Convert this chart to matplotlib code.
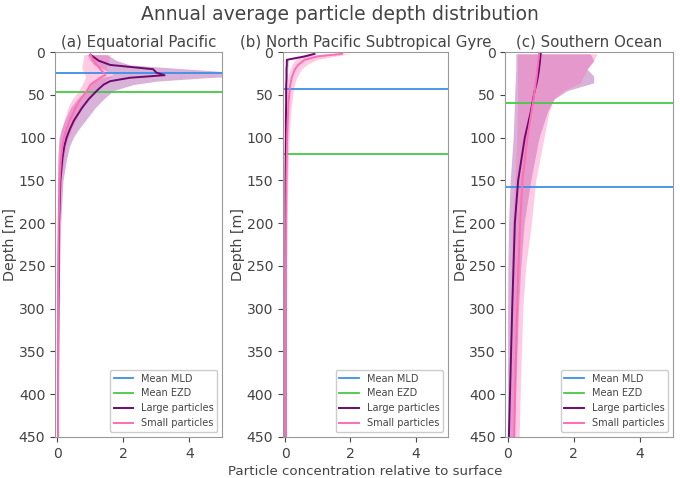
import matplotlib
matplotlib.use('Agg')
import matplotlib.pyplot as plt
import numpy as np

# ---------------- data ----------------
# (a) Equatorial Pacific
depth_a = [3, 10, 15, 20, 24, 27, 30, 34, 38, 45, 55, 65, 80, 90, 100, 110, 125, 150, 200, 250, 300, 375, 450]
large_a = [1.0, 1.25, 1.6, 2.9, 3.0, 3.25, 2.2, 1.6, 1.4, 1.2, 0.95, 0.75, 0.5, 0.38, 0.28, 0.21, 0.15, 0.09, 0.05, 0.04, 0.03, 0.02, 0.02]
large_a_lo = [0.9, 1.0, 1.1, 1.4, 1.6, 1.7, 1.3, 1.1, 1.0, 0.9, 0.6, 0.4, 0.22, 0.12, 0.05, 0.03, 0.01, 0.0, 0.0, 0.0, 0.0, 0.0, 0.0]
large_a_hi = [1.5, 1.8, 2.2, 4.0, 5.5, 6.0, 4.5, 3.0, 2.3, 1.7, 1.4, 1.15, 0.85, 0.65, 0.48, 0.37, 0.28, 0.17, 0.1, 0.07, 0.05, 0.04, 0.03]
small_a = [1.0, 1.1, 1.2, 1.3, 1.4, 1.45, 1.3, 1.15, 1.0, 0.9, 0.7, 0.55, 0.38, 0.28, 0.2, 0.15, 0.11, 0.07, 0.04, 0.03, 0.02, 0.02, 0.02]
small_a_lo = [0.8, 0.78, 0.75, 0.75, 0.8, 0.85, 0.85, 0.8, 0.75, 0.65, 0.45, 0.32, 0.2, 0.13, 0.08, 0.05, 0.03, 0.01, 0.0, 0.0, 0.0, 0.0, 0.0]
small_a_hi = [1.6, 1.55, 1.5, 1.5, 1.6, 1.7, 1.6, 1.45, 1.3, 1.15, 0.95, 0.75, 0.55, 0.43, 0.33, 0.26, 0.2, 0.12, 0.07, 0.05, 0.04, 0.03, 0.03]
mld_a = 25
ezd_a = 47

# (b) North Pacific Subtropical Gyre
depth_b = [2, 5, 9, 15, 20, 30, 40, 60, 80, 100, 150, 200, 300, 450]
large_b = [0.9, 0.6, 0.05, 0.05, 0.04, 0.04, 0.03, 0.03, 0.02, 0.02, 0.01, 0.01, 0.01, 0.01]
large_b_lo = [0.8, 0.5, 0.02, 0.02, 0.02, 0.01, 0.01, 0.0, 0.0, 0.0, 0.0, 0.0, 0.0, 0.0]
large_b_hi = [1.0, 0.7, 0.1, 0.09, 0.08, 0.07, 0.06, 0.05, 0.04, 0.03, 0.02, 0.02, 0.02, 0.02]
small_b = [1.75, 1.0, 0.6, 0.4, 0.3, 0.2, 0.15, 0.1, 0.08, 0.06, 0.04, 0.03, 0.02, 0.02]
small_b_lo = [1.2, 0.55, 0.3, 0.2, 0.15, 0.08, 0.05, 0.03, 0.02, 0.01, 0.0, 0.0, 0.0, 0.0]
small_b_hi = [2.0, 1.5, 0.95, 0.65, 0.5, 0.35, 0.27, 0.2, 0.15, 0.12, 0.08, 0.06, 0.04, 0.04]
mld_b = 43
ezd_b = 119

# (c) Southern Ocean
depth_c = [2, 10, 20, 28, 36, 45, 55, 70, 100, 150, 200, 250, 300, 375, 450]
large_c = [1.0, 0.98, 0.95, 0.92, 0.88, 0.82, 0.77, 0.7, 0.52, 0.32, 0.22, 0.18, 0.14, 0.09, 0.04]
large_c_lo = [0.25, 0.25, 0.25, 0.24, 0.23, 0.22, 0.21, 0.2, 0.17, 0.08, 0.03, 0.01, 0.0, 0.0, 0.0]
large_c_hi = [2.5, 2.6, 2.4, 2.6, 2.6, 1.8, 1.4, 1.2, 0.95, 0.7, 0.5, 0.4, 0.33, 0.26, 0.2]
small_c = [0.95, 0.93, 0.9, 0.88, 0.85, 0.82, 0.78, 0.72, 0.6, 0.45, 0.38, 0.33, 0.29, 0.24, 0.2]
small_c_lo = [0.3, 0.3, 0.3, 0.3, 0.3, 0.3, 0.3, 0.3, 0.28, 0.22, 0.15, 0.12, 0.1, 0.08, 0.07]
small_c_hi = [2.7, 2.6, 2.4, 2.3, 2.2, 1.7, 1.4, 1.25, 1.1, 0.85, 0.72, 0.55, 0.46, 0.4, 0.35]
mld_c = 158
ezd_c = 60

titles = ['(a) Equatorial Pacific', '(b) North Pacific Subtropical Gyre', '(c) Southern Ocean']

panels = [
    (depth_a, large_a, large_a_lo, large_a_hi, small_a, small_a_lo, small_a_hi, mld_a, ezd_a),
    (depth_b, large_b, large_b_lo, large_b_hi, small_b, small_b_lo, small_b_hi, mld_b, ezd_b),
    (depth_c, large_c, large_c_lo, large_c_hi, small_c, small_c_lo, small_c_hi, mld_c, ezd_c),
]

# ---------------- plot ----------------
txt = '#444444'
plt.rcParams['text.color'] = txt
plt.rcParams['axes.labelcolor'] = txt
plt.rcParams['xtick.color'] = txt
plt.rcParams['ytick.color'] = txt
plt.rcParams['axes.edgecolor'] = '#999999'

fig = plt.figure(figsize=(6.8, 4.78), dpi=100)
lefts = [0.081, 0.416, 0.743]
widths = [0.246, 0.243, 0.247]

c_mld = '#3d8fe8'
c_ezd = '#45c945'
c_large = '#6e0a6e'
c_small = '#ff6eb4'

for i, p in enumerate(panels):
    d, lg, lg_lo, lg_hi, sm, sm_lo, sm_hi, mld, ezd = p
    ax = fig.add_axes([lefts[i], 0.086, widths[i], 0.805])
    ax.fill_betweenx(d, lg_lo, lg_hi, color='purple', alpha=0.3, lw=0)
    ax.fill_betweenx(d, sm_lo, sm_hi, color='hotpink', alpha=0.35, lw=0)
    ax.axhline(mld, color=c_mld, lw=1.3, label='Mean MLD')
    ax.axhline(ezd, color=c_ezd, lw=1.3, label='Mean EZD')
    ax.plot(lg, d, color=c_large, lw=1.4, label='Large particles')
    ax.plot(sm, d, color=c_small, lw=1.4, label='Small particles')
    ax.set_xlim(-0.07, 5)
    ax.set_ylim(450, 0)
    ax.set_xticks([0, 2, 4])
    ax.set_yticks(np.arange(0, 451, 50))
    ax.tick_params(labelsize=10.1)
    ax.set_ylabel('Depth [m]', fontsize=10.3, labelpad=1)
    ax.set_title(titles[i], fontsize=10.8, pad=4)
    ax.legend(loc='lower right', fontsize=7, handlelength=2, framealpha=1)
    if i == 1:
        ax.set_xlabel('Particle concentration relative to surface', fontsize=9.6, labelpad=3)

fig.suptitle('Annual average particle depth distribution', fontsize=13.5, y=0.99)

plt.savefig('out.png', dpi=100)
